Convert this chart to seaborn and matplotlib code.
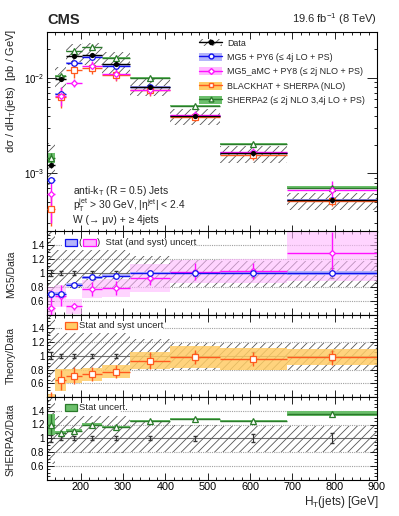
import numpy as np
import matplotlib
matplotlib.use('Agg')
import matplotlib.pyplot as plt
import seaborn as sns
from matplotlib.patches import Patch, Rectangle
from matplotlib.lines import Line2D
from matplotlib.ticker import MultipleLocator, FixedLocator, FuncFormatter, LogLocator, NullFormatter

# bins in H_T(jets) [GeV]
ht_edges = [120, 140, 166, 202, 250, 317, 411, 528, 687, 900]

# data: dsigma/dHT [pb/GeV], relative stat error, relative total uncertainty (up/down)
data_xsec = [1.21e-3, 9.76e-3, 1.71e-2, 1.75e-2, 1.40e-2, 8.04e-3, 3.98e-3, 1.62e-3, 5.2e-4]
data_stat = [0.05, 0.03, 0.03, 0.03, 0.03, 0.03, 0.04, 0.06, 0.07]
data_unc_up = [0.70, 0.33, 0.33, 0.33, 0.33, 0.25, 0.19, 0.18, 0.18]
data_unc_dn = [0.38, 0.21, 0.21, 0.21, 0.21, 0.20, 0.20, 0.20, 0.20]

# theory / data
mg5_ratio = [0.70, 0.70, 0.83, 0.94, 0.96, 1.00, 1.00, 1.00, 1.00]
mg5_stat = [0.03, 0.02, 0.02, 0.02, 0.02, 0.02, 0.02, 0.02, 0.03]
amc_ratio = [0.50, 0.67, 0.52, 0.77, 0.78, 0.93, 1.02, 1.03, 1.29]
amc_stat = [0.25, 0.15, 0.05, 0.10, 0.10, 0.10, 0.12, 0.12, 0.30]
amc_tot = [0.30, 0.16, 0.11, 0.13, 0.13, 0.20, 0.17, 0.17, 0.40]
bh_ratio = [0.35, 0.65, 0.71, 0.73, 0.77, 0.93, 0.985, 0.95, 0.98]
bh_err = [0.12, 0.15, 0.12, 0.10, 0.10, 0.12, 0.10, 0.10, 0.11]
bh_band = [0.10, 0.16, 0.10, 0.09, 0.09, 0.12, 0.16, 0.16, 0.12]
sh2_ratio = [1.20, 1.08, 1.11, 1.20, 1.17, 1.25, 1.28, 1.25, 1.36]
sh2_stat = [0.15, 0.02, 0.02, 0.015, 0.015, 0.015, 0.015, 0.02, 0.04]

legend_labels = ['Data', 'MG5 + PY6 (≤ 4j LO + PS)', 'MG5_aMC + PY8 (≤ 2j NLO + PS)',
                 'BLACKHAT + SHERPA (NLO)', 'SHERPA2 (≤ 2j NLO 3,4j LO + PS)']

c_blue, c_blue_band = '#1010ee', '#b4b4fa'
c_mag, c_mag_band = '#ff10ff', '#ffb8ff'
c_or, c_or_band = '#ff5a1e', '#ffcc66'
c_gr, c_gr_band = '#2a7a2a', '#6cbf6c'
c_hatch = '#555555'

sns.set_theme(style='ticks')
plt.rcParams['font.family'] = ['Liberation Sans', 'DejaVu Sans']
plt.rcParams['mathtext.fontset'] = 'custom'
plt.rcParams['mathtext.rm'] = 'Liberation Sans'
plt.rcParams['mathtext.it'] = 'Liberation Sans:italic'
plt.rcParams['hatch.linewidth'] = 0.6

edges = np.array(ht_edges, dtype=float)
centers = (edges[:-1] + edges[1:]) / 2
halfw = np.diff(edges) / 2
data = np.array(data_xsec)


def band(ax, lo, hi, **kw):
    lo = np.asarray(lo); hi = np.asarray(hi)
    ax.fill_between(edges, np.append(lo, lo[-1]), np.append(hi, hi[-1]), step='post', **kw)


def style_axis(ax):
    ax.set_xlim(120, 900)
    ax.xaxis.set_major_locator(MultipleLocator(100))
    ax.xaxis.set_minor_locator(MultipleLocator(20))
    ax.tick_params(which='both', direction='in', top=True, right=True, width=0.6,
                   labelsize=7, pad=2, colors='black')
    ax.tick_params(which='major', length=5)
    ax.tick_params(which='minor', length=2.5)
    for s in ax.spines.values():
        s.set_linewidth(0.8)
        s.set_color('black')


W, H = 399, 516
fig = plt.figure(figsize=(W / 100, H / 100), dpi=100)


def rect(top, bottom):
    return [47 / W, 1 - bottom / H, 330 / W, (bottom - top) / H]


ax0 = fig.add_axes(rect(31.5, 231.5))
ax1 = fig.add_axes(rect(231.5, 314.5))
ax2 = fig.add_axes(rect(314.5, 397))
ax3 = fig.add_axes(rect(397, 479.5))

# ---------------- main panel
ax0.set_yscale('log')
ax0.set_ylim(2.45e-4, 0.0307)
band(ax0, data * (1 - np.array(data_unc_dn)), data * (1 + np.array(data_unc_up)),
     facecolor='none', edgecolor=c_hatch, hatch='////', lw=0, zorder=1)

series = [
    (mg5_ratio, mg5_stat, c_blue, 'o', c_blue_band),
    (bh_ratio, bh_err, c_or, 's', None),
    (sh2_ratio, sh2_stat, c_gr, '^', c_gr_band),
    (amc_ratio, amc_stat, c_mag, 'D', None),
]
for ratio, err, col, mk, bcol in series:
    val = data * np.array(ratio)
    e = data * np.array(err)
    if bcol is not None:
        band(ax0, val - e, val + e, color=bcol, lw=0, zorder=2)
    ax0.errorbar(centers, val, xerr=halfw, yerr=e, fmt=mk, color=col, mfc='white',
                 mec=col, ms=4 if mk != 'D' else 3, mew=0.9, lw=1.0, capsize=0, zorder=3)

ax0.errorbar(centers, data, xerr=halfw, yerr=data * np.array(data_stat), fmt='none',
             color='black', lw=1.0, zorder=4)
sns.scatterplot(x=centers, y=data, ax=ax0, color='black', s=14, linewidth=0, zorder=5)

style_axis(ax0)
ax0.yaxis.set_major_locator(LogLocator(base=10, numticks=10))
ax0.yaxis.set_minor_locator(LogLocator(base=10, subs=np.arange(2, 10), numticks=20))
ax0.yaxis.set_minor_formatter(NullFormatter())
ax0.tick_params(axis='y', which='major', length=7)
ax0.set_xticklabels([])

handles = [
    (Patch(facecolor='white', edgecolor=c_hatch, hatch='////', lw=0),
     Line2D([], [], color='black', marker='o', ms=3, lw=1)),
    (Patch(facecolor=c_blue_band, lw=0),
     Line2D([], [], color=c_blue, marker='o', mfc='white', ms=3.5, lw=1)),
    (Patch(facecolor=c_mag_band, lw=0),
     Line2D([], [], color=c_mag, marker='D', mfc='white', ms=3, lw=1)),
    (Patch(facecolor=c_or_band, lw=0),
     Line2D([], [], color=c_or, marker='s', mfc='white', ms=3.5, lw=1)),
    (Patch(facecolor=c_gr_band, lw=0),
     Line2D([], [], color=c_gr, marker='^', mfc='white', ms=3.5, lw=1)),
]
ax0.legend(handles, legend_labels, loc='upper left', bbox_to_anchor=(0.462, 0.965),
           frameon=False, fontsize=6.4, handlelength=2.5, handleheight=1.0,
           labelspacing=0.6, handletextpad=0.6, borderaxespad=0, borderpad=0)

ax0.text(0.08, 0.203, 'anti-k$_\\mathrm{T}$ (R = 0.5) Jets', transform=ax0.transAxes,
         fontsize=7.4, va='center')
ax0.text(0.08, 0.130, 'p$_\\mathrm{T}^\\mathrm{jet}$ > 30 GeV, |η$^\\mathrm{jet}$| < 2.4',
         transform=ax0.transAxes, fontsize=7.4, va='center')
ax0.text(0.08, 0.057, 'W (→ μν) + ≥ 4jets', transform=ax0.transAxes, fontsize=7.4,
         va='center')

fig.text(47 / W, 1 - 24 / H, 'CMS', fontsize=10.5, fontweight='bold', va='baseline')
fig.text(377 / W, 1 - 23 / H, '19.6 fb$^{-1}$ (8 TeV)', fontsize=8, ha='right',
         va='baseline')
fig.text(11 / W, 1 - 29 / H, 'dσ / dH$_\\mathrm{T}$(jets)  [pb / GeV]', rotation=90,
         fontsize=8, ha='center', va='top')


# ---------------- ratio panels
def ratio_frame(ax, label, ycenter):
    ax.set_ylim(0.4, 1.6)
    for v in [0.6, 0.8, 1.2, 1.4]:
        ax.axhline(v, color='#a0a0a0', ls=(0, (1, 1)), lw=0.8, zorder=0)
    ax.axhline(1.0, color='#707070', lw=0.8, zorder=0)
    band(ax, 1 - np.array(data_unc_dn), 1 + np.array(data_unc_up), facecolor='none',
         edgecolor=c_hatch, hatch='////', lw=0, zorder=1)
    ax.errorbar(centers, np.ones(len(centers)), yerr=data_stat, fmt='none',
                color='#333333', lw=0.8, capsize=1.2, zorder=2)
    style_axis(ax)
    ax.yaxis.set_major_locator(FixedLocator([0.6, 0.8, 1.0, 1.2, 1.4]))
    ax.yaxis.set_minor_locator(MultipleLocator(0.05))
    ax.yaxis.set_major_formatter(FuncFormatter(lambda v, p: '%g' % v))
    fig.text(11 / W, 1 - ycenter / H, label, rotation=90, fontsize=7.5,
             ha='center', va='center')


def legend_box(ax, x0, x1, fc, ec):
    ax.add_patch(Rectangle((x0, 1.395), x1 - x0, 0.1, facecolor=fc, edgecolor=ec,
                           lw=0.9, zorder=8))


ratio_frame(ax1, 'MG5/Data', 274)
band(ax1, np.array(amc_ratio) - np.array(amc_tot), np.array(amc_ratio) + np.array(amc_tot),
     color=c_mag_band, alpha=0.6, lw=0, zorder=2)
band(ax1, np.array(mg5_ratio) - np.array(mg5_stat), np.array(mg5_ratio) + np.array(mg5_stat),
     color=c_blue_band, lw=0, zorder=2)
ax1.errorbar(centers, amc_ratio, xerr=halfw, yerr=amc_stat, fmt='D', color=c_mag,
             mfc='white', ms=3, mew=0.9, lw=1.0, zorder=3)
ax1.errorbar(centers, mg5_ratio, xerr=halfw, yerr=mg5_stat, fmt='o', color=c_blue,
             mfc='white', ms=4, mew=0.9, lw=1.0, zorder=4)
ax1.set_xticklabels([])
ax1.add_patch(Rectangle((158, 1.37), 300, 0.14, facecolor='white', lw=0, zorder=7))
legend_box(ax1, 162, 190, c_blue_band, c_blue)
ax1.text(193, 1.445, '(', fontsize=6.8, va='center', zorder=9)
legend_box(ax1, 206, 236, c_mag_band, c_mag)
ax1.text(238, 1.445, ')  Stat (and syst) uncert', fontsize=6.8, va='center', zorder=9)

ratio_frame(ax2, 'Theory/Data', 356)
band(ax2, np.array(bh_ratio) - np.array(bh_band), np.array(bh_ratio) + np.array(bh_band),
     color=c_or_band, alpha=0.85, lw=0, zorder=2)
ax2.errorbar(centers, bh_ratio, xerr=halfw, yerr=bh_err, fmt='s', color=c_or,
             mfc='white', ms=4, mew=0.9, lw=1.0, zorder=4)
ax2.set_xticklabels([])
ax2.add_patch(Rectangle((158, 1.37), 235, 0.14, facecolor='white', lw=0, zorder=7))
legend_box(ax2, 162, 190, c_or_band, c_or)
ax2.text(196, 1.445, 'Stat and syst uncert', fontsize=6.8, va='center', zorder=9)

ratio_frame(ax3, 'SHERPA2/Data', 440)
band(ax3, np.array(sh2_ratio) - np.array(sh2_stat), np.array(sh2_ratio) + np.array(sh2_stat),
     color=c_gr_band, lw=0, zorder=2)
ax3.errorbar(centers, sh2_ratio, xerr=halfw, yerr=sh2_stat, fmt='^', color=c_gr,
             mfc='white', ms=4, mew=0.9, lw=1.0, zorder=4)
ax3.add_patch(Rectangle((158, 1.37), 135, 0.14, facecolor='white', lw=0, zorder=7))
legend_box(ax3, 162, 190, c_gr_band, c_gr)
ax3.text(196, 1.445, 'Stat uncert.', fontsize=6.8, va='center', zorder=9)
ax3.tick_params(axis='x', labelsize=7.8, pad=2)

fig.text(379 / W, 1 - 502 / H, 'H$_\\mathrm{T}$(jets) [GeV]', fontsize=8.5, ha='right',
         va='center')

fig.savefig('out.png', dpi=100)
